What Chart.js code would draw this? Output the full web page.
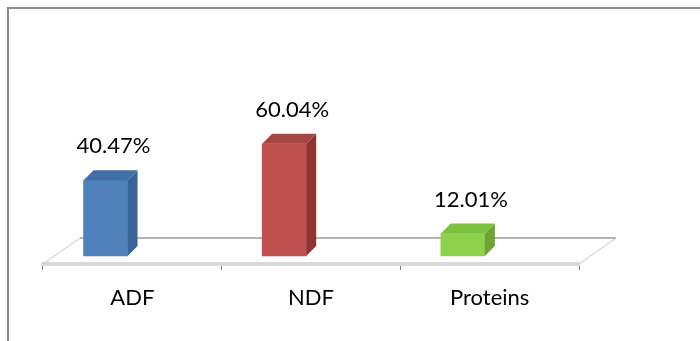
<!DOCTYPE html>
<html>
<head>
<meta charset="utf-8">
<script src="https://cdn.jsdelivr.net/npm/chart.js@4.4.1/dist/chart.umd.min.js"></script>
<style>
    html, body { margin: 0; padding: 0; background: #fff; }
    #marco { position: relative; width: 700px; height: 341px; overflow: hidden; }
    #borde { position: absolute; left: 7px; top: 7px; width: 720px; height: 360px; border-top: 2px solid #8c8c8c; border-left: 2px solid #8c8c8c; }
    #grafica { position: absolute; left: 0; top: 0; }
</style>
</head>
<body>
<div id="marco">
    <div id="borde"></div>
    <canvas id="grafica" width="700" height="341"></canvas>
</div>
<script>
const categorias = ['ADF', 'NDF', 'Proteins'];
const porcentajes = [40.47, 60.04, 12.01];
const etiquetas = ['40.47%', '60.04%', '12.01%'];
const coloresFrente = ['#4f81bd', '#c0504d', '#8ed14b'];
const coloresLado = ['#38649a', '#8e3533', '#6ea336'];
const coloresArriba = ['#416fa9', '#a84442', '#7cc23e'];

const FONDO = 10;          // profundidad de las barras
const PISO_DX = 37, PISO_DY = 26;

// piso en perspectiva (debajo de las barras)
const pisoPlugin = {
    id: 'piso',
    beforeDatasetsDraw(chart) {
        const ctx = chart.ctx;
        const x = chart.scales.x;
        const y0 = chart.chartArea.bottom;
        ctx.save();
        ctx.lineWidth = 1;
        ctx.strokeStyle = '#c8c8c8';
        ctx.beginPath();
        ctx.moveTo(x.left, y0);
        ctx.lineTo(x.left + PISO_DX, y0 - PISO_DY);
        ctx.moveTo(x.right, y0);
        ctx.lineTo(x.right + PISO_DX, y0 - PISO_DY);
        ctx.stroke();
        ctx.lineWidth = 2;
        ctx.strokeStyle = '#b4b4b4';
        ctx.beginPath();
        ctx.moveTo(x.left + PISO_DX, y0 - PISO_DY);
        ctx.lineTo(x.right + PISO_DX, y0 - PISO_DY);
        ctx.stroke();
        ctx.restore();
    }
};

// caras laterales y superiores + etiquetas
const barras3d = {
    id: 'barras3d',
    afterDatasetsDraw(chart) {
        const ctx = chart.ctx;
        const meta = chart.getDatasetMeta(0);
        ctx.save();
        meta.data.forEach((bar, i) => {
            const izq = bar.x - bar.width / 2;
            const der = bar.x + bar.width / 2;
            const top = bar.y;
            const base = bar.base;

            ctx.fillStyle = coloresLado[i];
            ctx.beginPath();
            ctx.moveTo(der, top);
            ctx.lineTo(der + FONDO, top - FONDO);
            ctx.lineTo(der + FONDO, base - FONDO);
            ctx.lineTo(der, base);
            ctx.closePath();
            ctx.fill();

            ctx.fillStyle = coloresArriba[i];
            ctx.beginPath();
            ctx.moveTo(izq, top);
            ctx.lineTo(izq + FONDO, top - FONDO);
            ctx.lineTo(der + FONDO, top - FONDO);
            ctx.lineTo(der, top);
            ctx.closePath();
            ctx.fill();

            ctx.fillStyle = '#000';
            ctx.font = '22px Lato';
            ctx.textAlign = 'center';
            ctx.textBaseline = 'alphabetic';
            ctx.fillText(etiquetas[i], bar.x + FONDO / 2 + 3, top - FONDO - 17);
        });
        ctx.restore();
    }
};

const ctx = document.getElementById('grafica').getContext('2d');

window.miGrafica = new Chart(ctx, {
    type: 'bar',
    data: {
        labels: categorias,
        datasets: [{
            data: porcentajes.map((v, i) => ({ x: i, y: v })),
            backgroundColor: coloresFrente,
            borderWidth: 0,
            barThickness: 44,
            xAxisID: 'xb'
        }]
    },
    options: {
        responsive: false,
        animation: false,
        events: [],
        layout: {
            padding: { left: 43, right: 121, top: 69, bottom: 0 }
        },
        plugins: {
            legend: { display: false },
            tooltip: { enabled: false }
        },
        scales: {
            xb: {
                type: 'linear',
                display: false,
                min: -0.35,
                max: 2.65,
                offset: false
            },
            x: {
                type: 'category',
                position: 'bottom',
                offset: true,
                grid: {
                    display: true,
                    offset: true,
                    drawOnChartArea: false,
                    tickLength: 6,
                    color: '#7f7f7f'
                },
                border: { display: true, color: '#d9d9d9', width: 4 },
                ticks: {
                    color: '#000',
                    padding: 15,
                    font: { family: 'Lato', size: 22 }
                },
                afterFit(scale) { scale.height = 77; }
            },
            y: {
                display: false,
                min: -4.3,
                max: 100
            }
        }
    },
    plugins: [pisoPlugin, barras3d]
});
</script>
</body>
</html>
